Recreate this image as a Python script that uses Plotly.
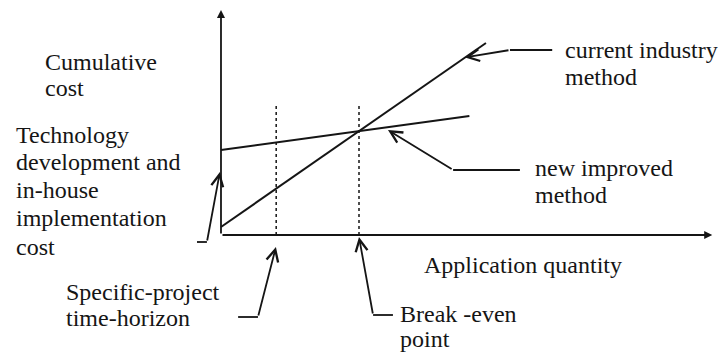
import plotly.graph_objects as go

# Schematic cost curves (arbitrary units)
quantity_current = [0, 9.6]
cost_current = [0.8, 19.2]
quantity_new = [0, 9.0]
cost_new = [8.5, 11.9]
horizon_x = 2.0
breakeven_x = 5.0
dotted_top = 13.2
x_axis_end = 17.8
y_axis_end = 22.5

INK = "#151515"
FONT = "Liberation Serif, Times New Roman, serif"
FS = 24

fig = go.Figure()

# cost lines
fig.add_trace(go.Scatter(x=quantity_current, y=cost_current, mode="lines",
                         line=dict(color=INK, width=2), hoverinfo="skip"))
fig.add_trace(go.Scatter(x=quantity_new, y=cost_new, mode="lines",
                         line=dict(color=INK, width=2), hoverinfo="skip"))

# dotted verticals
for xv in [horizon_x, breakeven_x]:
    fig.add_trace(go.Scatter(x=[xv, xv], y=[0, dotted_top], mode="lines",
                             line=dict(color=INK, width=1.5, dash="dot"), hoverinfo="skip"))


def arrow(x, y, ax, ay, head=5, size=1.3):
    fig.add_annotation(x=x, y=y, ax=ax, ay=ay, xref="x", yref="y", axref="x", ayref="y",
                       text="", showarrow=True, arrowhead=head, arrowsize=size,
                       arrowwidth=1.8, arrowcolor=INK)


# axes
arrow(0, y_axis_end, 0, 0, head=2, size=0.9)
arrow(x_axis_end, 0, 0, 0, head=2, size=0.9)

# leader lines: (start, bend, tip)
leaders = [
    [(12.0, 18.5), (10.47, 18.5), (8.84, 17.75)],
    [(10.83, 6.5), (8.41, 6.5), (6.05, 10.5)],
    [(-0.87, -0.7), (-0.51, -0.7), (-0.04, 6.3)],
    [(0.62, -8.2), (1.34, -8.2), (1.99, -1.2)],
    [(6.23, -8.0), (5.51, -8.0), (breakeven_x, -0.2)],
]
for (sx, sy), (bx, by), (tx, ty) in leaders:
    fig.add_trace(go.Scatter(x=[sx, bx], y=[sy, by], mode="lines",
                             line=dict(color=INK, width=1.8), hoverinfo="skip"))
    arrow(tx, ty, bx, by)

labels = [
    ("Cumulative", -6.45, 17.3), ("cost", -6.45, 14.7),
    ("Technology", -7.5, 10.0), ("development and", -7.5, 7.3),
    ("in-house", -7.5, 4.5), ("implementation", -7.5, 1.7), ("cost", -7.5, -1.2),
    ("current industry", 12.4, 18.5), ("method", 12.4, 15.8),
    ("new improved", 11.30, 6.7), ("method", 11.30, 4.0),
    ("Application quantity", 7.28, -3.0),
    ("Specific-project", -5.69, -5.7), ("time-horizon", -5.69, -8.3),
    ("Break -even", 6.41, -7.9), ("point", 6.41, -10.4),
]
for txt, lx, ly in labels:
    fig.add_annotation(x=lx, y=ly, xref="x", yref="y", text=txt, showarrow=False,
                       xanchor="left", yanchor="middle",
                       font=dict(family=FONT, size=FS, color=INK))

# page body keeps an 8px margin, so the figure is 8px smaller and ranges start at px 8
fig.update_layout(
    width=718, height=346,
    margin=dict(l=0, r=0, t=0, b=0),
    showlegend=False,
    paper_bgcolor="white", plot_bgcolor="white",
    xaxis=dict(range=[-7.717, 18.297], visible=False, fixedrange=True),
    yaxis=dict(range=[-11.9, 22.7], visible=False, fixedrange=True),
)

fig.write_html("out.html")
